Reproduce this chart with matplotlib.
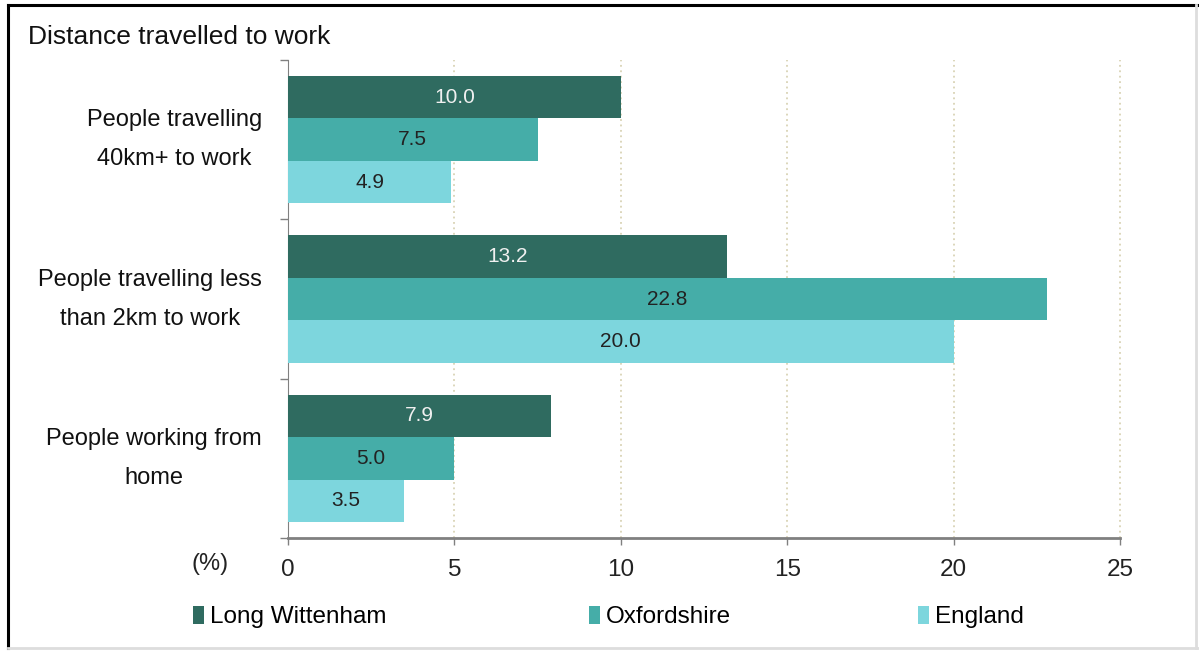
import matplotlib
matplotlib.use("Agg")
import matplotlib.pyplot as plt
from matplotlib.lines import Line2D

plt.rcParams['font.family'] = ['Liberation Sans', 'DejaVu Sans']

# Data
categories = ["People travelling\n40km+ to work",
              "People travelling less\nthan 2km to work",
              "People working from\nhome"]
long_wittenham = [10.0, 13.2, 7.9]
oxfordshire = [7.5, 22.8, 5.0]
england = [4.9, 20.0, 3.5]
series_names = ["Long Wittenham", "Oxfordshire", "England"]
colors = ["#2F6B60", "#45ADA8", "#7DD6DD"]
label_colors = ["#F0F0F0", "#222222", "#222222"]
xticks = [0, 5, 10, 15, 20, 25]

fig = plt.figure(figsize=(11.99, 6.52), dpi=100)
ax = fig.add_axes([0.2402, 0.1748, 0.6939, 0.7332])

# frame around the whole chart: dark on top/left, light grey on right/bottom
fig.lines.append(Line2D([0.0065, 0.0065], [0.006, 0.993], transform=fig.transFigure,
                        color="black", linewidth=2.2))
fig.lines.append(Line2D([0.0065, 0.999], [0.993, 0.993], transform=fig.transFigure,
                        color="black", linewidth=2.2))
fig.lines.append(Line2D([0.9975, 0.9975], [0.006, 0.993], transform=fig.transFigure,
                        color="#DDDDDD", linewidth=2))
fig.lines.append(Line2D([0.0065, 0.999], [0.006, 0.006], transform=fig.transFigure,
                        color="#DDDDDD", linewidth=2))

n = len(categories)
h = 0.266
ypos = [n - 1 - i for i in range(n)]
offsets = [h, 0, -h]
handles = []
for k, vals in enumerate([long_wittenham, oxfordshire, england]):
    ys = [y + offsets[k] for y in ypos]
    bars = ax.barh(ys, vals, height=h, color=colors[k], label=series_names[k], zorder=3)
    handles.append(bars)
    for b, v in zip(bars, vals):
        ax.text(v / 2, b.get_y() + b.get_height() / 2, f"{v:.1f}", ha="center", va="center",
                fontsize=15, color=label_colors[k], zorder=4)

ax.set_xlim(0, 25)
ax.set_ylim(-0.5, n - 0.5)
ax.set_xticks(xticks)
ax.set_xticklabels([str(t) for t in xticks], fontsize=17.5, color="#222222")
ax.tick_params(axis="x", length=5, width=1, color="#808080", pad=10)
ax.set_yticks([i - 0.5 for i in range(n + 1)])
ax.set_yticklabels([])
ax.tick_params(axis="y", length=6, width=1, color="#808080")

for x in xticks[1:]:
    ax.axvline(x, color="#D9D3B5", linestyle=(0, (1, 2)), linewidth=1.3, zorder=1,
               clip_on=False)

for s in ["top", "right"]:
    ax.spines[s].set_visible(False)
ax.spines["left"].set_color("#808080")
ax.spines["bottom"].set_color("#808080")
ax.spines["bottom"].set_linewidth(2)

for y, cat in zip(ypos, categories):
    ax.text(-0.78, y, cat, ha="right", va="center", multialignment="center",
            fontsize=17, linespacing=2.0, color="#111111")

fig.text(0.023, 0.943, "Distance travelled to work", fontsize=19, ha="left", va="center",
         color="#111111")
fig.text(0.175, 0.135, "(%)", fontsize=17, ha="center", va="center", color="#222222")

anchors_x = [0.161, 0.491, 0.766]
for hd, name, ax_x in zip(handles, series_names, anchors_x):
    fig.legend(handles=[hd], labels=[name], loc="center left", bbox_to_anchor=(ax_x, 0.0537),
               frameon=False, fontsize=17.5, handlelength=0.45, handleheight=0.8,
               handletextpad=0.25, borderpad=0, borderaxespad=0)

fig.savefig("out.png", dpi=100)
